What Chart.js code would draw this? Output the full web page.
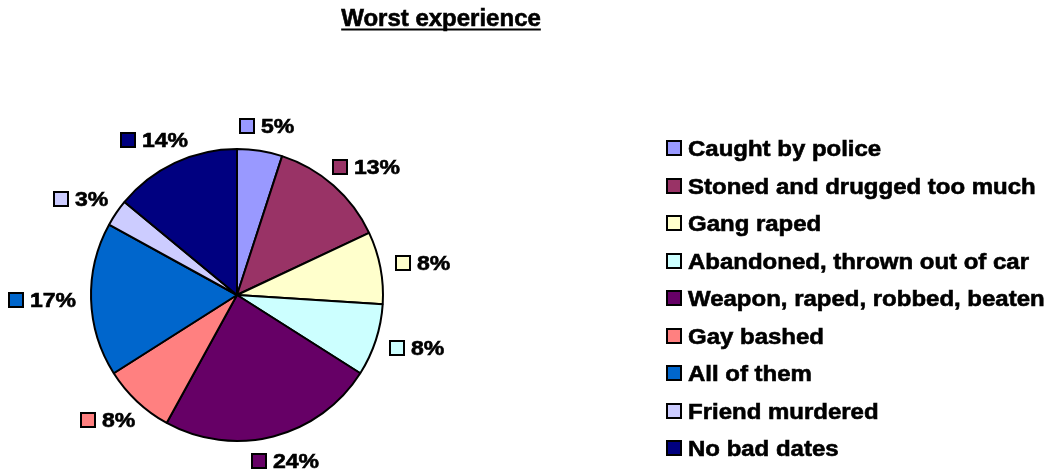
<!DOCTYPE html>
<html>
<head>
<meta charset="utf-8">
<script src="https://cdn.jsdelivr.net/npm/chart.js@4/dist/chart.umd.min.js"></script>
<style>
  html, body { margin: 0; padding: 0; background: #fff; }
  #wrap { width: 1058px; height: 471px; position: relative; }
</style>
</head>
<body>
<div id="wrap"><canvas id="canvas-1"></canvas></div>
<script>
var chartTitle = 'Worst experience';
var categories = ['Caught by police', 'Stoned and drugged too much', 'Gang raped', 'Abandoned, thrown out of car',
    'Weapon, raped, robbed, beaten', 'Gay bashed', 'All of them', 'Friend murdered', 'No bad dates'];
var percents = [5, 13, 8, 8, 24, 8, 17, 3, 14];
var sliceColors = ['#9999FF', '#993366', '#FFFFCC', '#CCFFFF', '#660066', '#FF8080', '#0066CC', '#CCCCFF', '#000080'];

var FONT = '"Liberation Sans", Arial, sans-serif';

// draw text stretched horizontally (old excel render is wider) and a bit heavier
function wideText(ctx, text, x, y, sx) {
    ctx.save();
    ctx.translate(x, y);
    ctx.scale(sx, 1);
    ctx.fillStyle = '#000';
    ctx.strokeStyle = '#000';
    ctx.lineWidth = 0.6;
    ctx.fillText(text, 0, 0);
    ctx.strokeText(text, 0, 0);
    ctx.restore();
}

function swatch(ctx, x, y, size, color) {
    ctx.fillStyle = color;
    ctx.fillRect(x, y, size, size);
    ctx.lineWidth = 2;
    ctx.strokeStyle = '#000';
    ctx.strokeRect(x + 1, y + 1, size - 2, size - 2);
}

var titlePlugin = {
    id: 'uTitle',
    afterDraw: function (chart) {
        var ctx = chart.ctx;
        ctx.save();
        ctx.font = 'bold 24px ' + FONT;
        ctx.textBaseline = 'alphabetic';
        var w = ctx.measureText(chartTitle).width;
        var x = 441 - w / 2;
        wideText(ctx, chartTitle, x, 26, 1);
        ctx.fillStyle = '#000';
        ctx.fillRect(x, 28.5, w, 2);
        ctx.restore();
    }
};

var legendPlugin = {
    id: 'sideLegend',
    afterDraw: function (chart) {
        var ctx = chart.ctx;
        ctx.save();
        ctx.font = 'bold 22px ' + FONT;
        ctx.textBaseline = 'alphabetic';
        categories.forEach(function (name, i) {
            var cy = 148 + i * 37.5;
            swatch(ctx, 666, Math.round(cy - 8), 16, sliceColors[i]);
            wideText(ctx, name, 688, cy + 8, 1.09);
        });
        ctx.restore();
    }
};

var labelPlugin = {
    id: 'pctLabels',
    afterDatasetsDraw: function (chart) {
        var ctx = chart.ctx;
        var meta = chart.getDatasetMeta(0);
        ctx.save();
        ctx.font = 'bold 20px ' + FONT;
        ctx.textBaseline = 'alphabetic';
        meta.data.forEach(function (arc, i) {
            var p = arc.getProps(['x', 'y', 'startAngle', 'endAngle', 'outerRadius'], true);
            var mid = (p.startAngle + p.endAngle) / 2;
            var ux = Math.cos(mid), uy = Math.sin(mid);
            var txt = percents[i] + '%';
            var tw = ctx.measureText(txt).width * 1.15;
            var w = 16 + 6 + tw, h = 20;
            var ax = p.x + (p.outerRadius + 15) * ux;
            var ay = p.y + (p.outerRadius + 15) * uy;
            var cx = ax + ux * w / 2, cy = ay + uy * h / 2;
            var left = Math.round(cx - w / 2);
            swatch(ctx, left, Math.round(cy - 8), 16, sliceColors[i]);
            wideText(ctx, txt, left + 22, cy + 7, 1.15);
        });
        ctx.restore();
    }
};

var pieChart = new Chart(document.getElementById('canvas-1'), {
    type: 'pie',
    data: {
        labels: categories,
        datasets: [{
            data: percents,
            backgroundColor: sliceColors,
            borderColor: '#000',
            borderWidth: 2
        }]
    },
    options: {
        responsive: true,
        maintainAspectRatio: false,
        animation: false,
        layout: { padding: { left: 90, right: 674, top: 148, bottom: 29 } },
        plugins: {
            legend: { display: false },
            title: { display: false },
            tooltip: { enabled: false }
        }
    },
    plugins: [titlePlugin, legendPlugin, labelPlugin]
});
</script>
</body>
</html>
